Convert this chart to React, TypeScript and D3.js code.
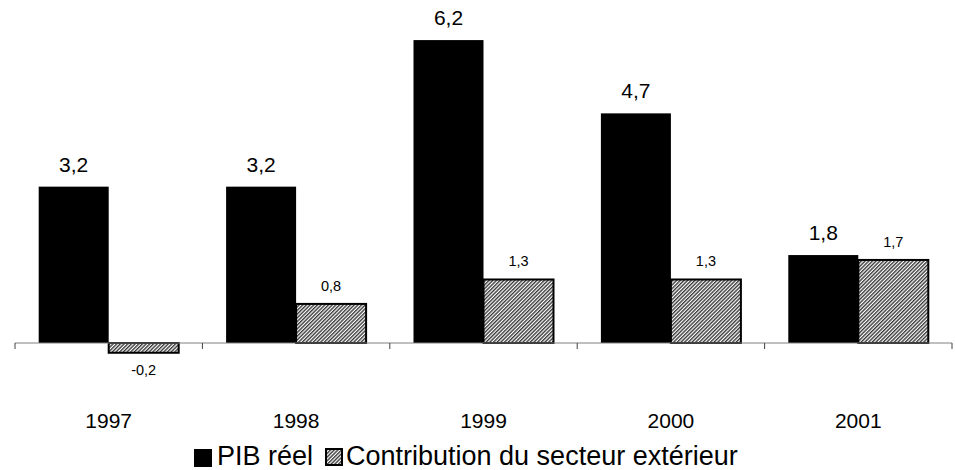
import React from "react";
import * as d3 from "d3";

const years = ["1997", "1998", "1999", "2000", "2001"];
const pibReel = [3.2, 3.2, 6.2, 4.7, 1.8];
const contribution = [-0.2, 0.8, 1.3, 1.3, 1.7];
const seriesNames = ["PIB réel", "Contribution du secteur extérieur"];

const fmt = (v: number) => v.toFixed(1).replace(".", ",");

export default function App() {
  const W = 955, H = 470;
  const x = d3.scaleBand<string>().domain(years).range([15, 952]).paddingInner(0).paddingOuter(0);
  const gap = 23.7;
  const xs = d3.scaleBand<string>().domain(["a", "b"]).range([gap, x.bandwidth() - gap]).padding(0);
  const y = d3.scaleLinear().domain([0, 7]).range([343, 1]);
  const font = "'Liberation Sans', Arial, sans-serif";
  const ticks = [...years.map((d) => x(d)!), 952];

  return (
    <div style={{ position: "absolute", left: 0, top: 0 }}>
      <svg width={W} height={H} style={{ display: "block", background: "#fff" }}>
        <defs>
          <pattern id="hatch" width="2.6" height="2.6" patternUnits="userSpaceOnUse" patternTransform="rotate(-45)">
            <rect width="2.6" height="2.6" fill="#ffffff" />
            <rect width="2.6" height="1.4" fill="#3a3a3a" />
          </pattern>
        </defs>
        {/* bars */}
        {years.map((yr, i) => {
          const x0 = x(yr)!;
          const v1 = pibReel[i];
          const v2 = contribution[i];
          const bx1 = x0 + xs("a")!;
          const bx2 = x0 + xs("b")!;
          const bw = xs.bandwidth();
          return (
            <g key={yr}>
              <rect x={bx1} y={y(Math.max(0, v1))} width={bw} height={Math.abs(y(v1) - y(0))} fill="#000" />
              <rect
                x={bx2}
                y={y(Math.max(0, v2))}
                width={bw}
                height={Math.abs(y(v2) - y(0))}
                fill="url(#hatch)"
                stroke="#000"
                strokeWidth={2}
              />
              <text x={bx1 + bw / 2} y={y(v1) - 15} textAnchor="middle" fontSize={21} fontFamily={font} fill="#000">
                {fmt(v1)}
              </text>
              <text
                x={bx2 + bw / 2}
                y={v2 >= 0 ? y(v2) - 13 : y(v2) + 22}
                textAnchor="middle"
                fontSize={14.5}
                fontFamily={font}
                fill="#000"
              >
                {fmt(v2)}
              </text>
              <text x={x0 + x.bandwidth() / 2} y={428} textAnchor="middle" fontSize={21} fontFamily={font} fill="#000">
                {yr}
              </text>
            </g>
          );
        })}
        {/* axis */}
        <line x1={15} x2={952} y1={y(0)} y2={y(0)} stroke="#808080" strokeWidth={1} />
        {ticks.map((t, i) => (
          <line key={i} x1={t} x2={t} y1={y(0)} y2={y(0) + 6} stroke="#404040" strokeWidth={1} />
        ))}
        {/* legend */}
        <rect x={194} y={449} width={18} height={18} fill="#000" />
        <text x={217} y={465} fontSize={27} fontFamily={font} fill="#000">{seriesNames[0]}</text>
        <rect x={326} y={449} width={16} height={16} fill="url(#hatch)" stroke="#000" strokeWidth={2} />
        <text x={346} y={465} fontSize={27} fontFamily={font} fill="#000">{seriesNames[1]}</text>
      </svg>
    </div>
  );
}
